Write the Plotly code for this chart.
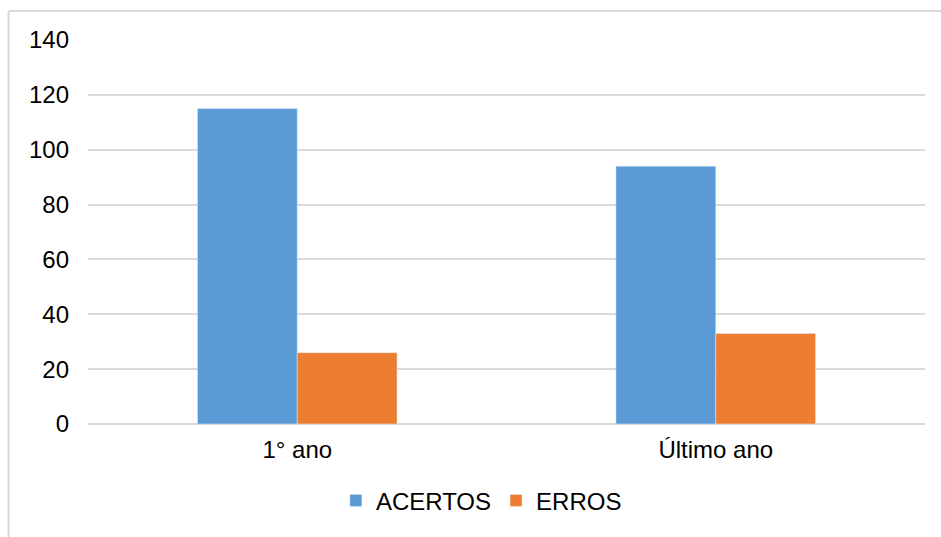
import plotly.graph_objects as go

categories = ["1° ano", "Último ano"]
acertos = [115, 94]
erros = [26, 33]
y_ticks = [0, 20, 40, 60, 80, 100, 120, 140]

FONT = "Liberation Sans, Arial, sans-serif"
GRID = "#d9d9d9"
FS = 24

fig = go.Figure()
fig.add_trace(go.Bar(name="ACERTOS", x=categories, y=acertos, marker_color="#5b9bd5"))
fig.add_trace(go.Bar(name="ERROS", x=categories, y=erros, marker_color="#ed7d31"))

L, R, T, B = 87.5, 16, 40, 112.5
W, H = 941, 537
pw, ph = W - L - R, H - T - B
bx = (8 - L) / pw          # frame left edge in paper units
by = (H - B - 11) / ph     # frame top edge in paper units

fig.update_layout(
    width=W, height=H,
    margin=dict(l=L, r=R, t=T, b=B),
    paper_bgcolor="white", plot_bgcolor="white",
    barmode="group", bargap=0.523, bargroupgap=0,
    font=dict(family=FONT, size=FS, color="#000000"),
    showlegend=True,
    legend=dict(orientation="h", x=0.47, xanchor="center", y=-0.20, yanchor="middle",
                font=dict(size=FS), itemwidth=30, traceorder="normal"),
    xaxis=dict(showgrid=False, showline=False, zeroline=False, ticks="",
               ticklabelstandoff=9, tickfont=dict(size=FS)),
    yaxis=dict(range=[0, 140], tickvals=y_ticks, showgrid=True, gridcolor=GRID, gridwidth=2,
               zeroline=True, zerolinecolor=GRID, zerolinewidth=2, showline=False,
               ticks="", ticklabelstandoff=18, tickfont=dict(size=FS)),
    shapes=[
        dict(type="line", xref="paper", yref="paper", x0=bx, x1=bx, y0=-1, y1=by,
             line=dict(color=GRID, width=2)),
        dict(type="line", xref="paper", yref="paper", x0=bx, x1=1.5, y0=by, y1=by,
             line=dict(color=GRID, width=2)),
    ],
)

fig.write_html("out.html")
